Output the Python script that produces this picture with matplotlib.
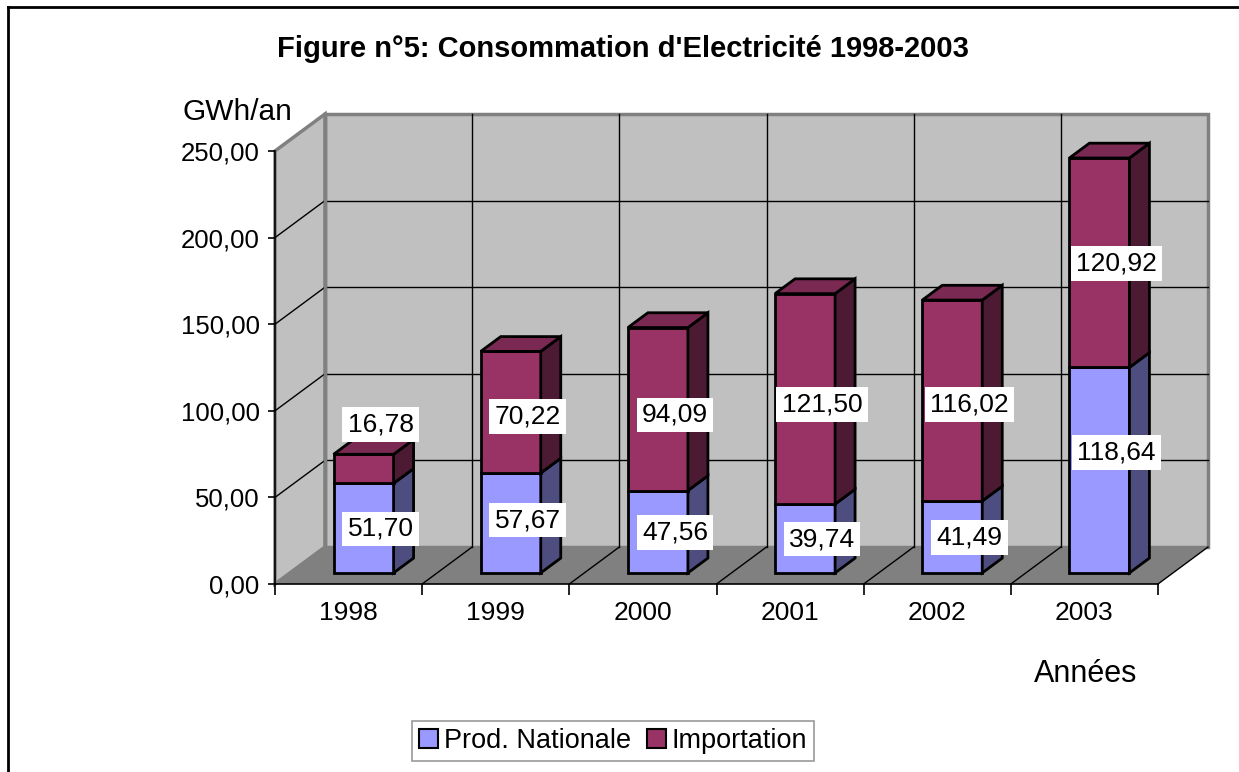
import matplotlib.pyplot as plt
from matplotlib.patches import Polygon, Rectangle
from matplotlib.lines import Line2D

plt.rcParams['font.family'] = ['Liberation Sans', 'DejaVu Sans']

# donnees
annees = ['1998', '1999', '2000', '2001', '2002', '2003']
prod_nationale = [51.70, 57.67, 47.56, 39.74, 41.49, 118.64]
importation = [16.78, 70.22, 94.09, 121.50, 116.02, 120.92]
yticks = [0, 50, 100, 150, 200, 250]

# couleurs (face, cote, dessus)
bleu = ('#9999ff', '#4d4d80', '#7a7acc')
violet = ('#993366', '#4d1a33', '#7a2952')

W, H = 1239, 772
fig = plt.figure(figsize=(W / 100, H / 100), dpi=100)
ax = fig.add_axes([275 / W, (H - 584) / H, 883 / W, 433 / H])
n = len(annees)
ax.set_xlim(0, n)
ax.set_ylim(0, 250)
ax.patch.set_visible(False)

# profondeur 3D en unites de donnees
DX = 50 / (883 / n)
DY = 37 / (433 / 250)
ymax = yticks[-1]

# murs et sol
ax.add_patch(Rectangle((DX, DY), n, ymax, fc='#c0c0c0', ec='#808080', lw=2.5, clip_on=False, zorder=1))
ax.add_patch(Polygon([(0, 0), (DX, DY), (DX, ymax + DY), (0, ymax)], closed=True,
                     fc='#c0c0c0', ec='#808080', lw=2.5, clip_on=False, zorder=1))
ax.add_patch(Polygon([(0, 0), (n, 0), (n + DX, DY), (DX, DY)], closed=True,
                     fc='#808080', ec='none', clip_on=False, zorder=1))

# quadrillage
for v in yticks[1:-1]:
    ax.plot([DX, n + DX], [v + DY, v + DY], color='black', lw=1, clip_on=False, zorder=2)
    ax.plot([0, DX], [v, v + DY], color='black', lw=1, clip_on=False, zorder=2)
for i in range(1, n):
    ax.plot([i + DX, i + DX], [DY, ymax + DY], color='black', lw=1, clip_on=False, zorder=2)
for i in range(1, n + 1):
    ax.plot([i, i + DX], [0, DY], color='black', lw=1, clip_on=False, zorder=2)
ax.plot([DX, DX], [DY, ymax + DY], color='#808080', lw=2.5, clip_on=False, zorder=2)

# barres 3D empilees
bw = 60 / (883 / n)
d0, d1 = 0.3, 0.7


def barre(xc, y0, y1, cols, top):
    xl = xc - bw / 2 + d0 * DX
    xr = xl + bw
    b0 = y0 + d0 * DY
    t0 = y1 + d0 * DY
    ddx = (d1 - d0) * DX
    ddy = (d1 - d0) * DY
    ax.add_patch(Polygon([(xl, b0), (xr, b0), (xr, t0), (xl, t0)], closed=True,
                         fc=cols[0], ec='black', lw=2, zorder=5, clip_on=False, joinstyle='miter'))
    ax.add_patch(Polygon([(xr, b0), (xr + ddx, b0 + ddy), (xr + ddx, t0 + ddy), (xr, t0)], closed=True,
                         fc=cols[1], ec='black', lw=2, zorder=5, clip_on=False, joinstyle='miter'))
    if top:
        ax.add_patch(Polygon([(xl, t0), (xr, t0), (xr + ddx, t0 + ddy), (xl + ddx, t0 + ddy)], closed=True,
                             fc=cols[2], ec='black', lw=2, zorder=5, clip_on=False, joinstyle='miter'))


# decalage des etiquettes (unites de valeur)
nudge_prod = [0, 2, 0, 0, 0, 10.5]
nudge_imp = [26, -2, -3, -3, -2, 0]
lift = 6
lx = 17 / (883 / n)
for i in range(n):
    xc = i + 0.5
    p, m = prod_nationale[i], importation[i]
    barre(xc, 0, p, bleu, False)
    barre(xc, p, p + m, violet, True)
    xt = xc + d0 * DX + lx
    ax.text(xt, p / 2 + nudge_prod[i] + lift, f'{p:.2f}'.replace('.', ','), ha='center', va='center',
            fontsize=19, zorder=10, bbox=dict(boxstyle='square,pad=0.2', fc='white', ec='none'))
    ax.text(xt, p + m / 2 + nudge_imp[i] + lift, f'{m:.2f}'.replace('.', ','), ha='center', va='center',
            fontsize=19, zorder=10, bbox=dict(boxstyle='square,pad=0.2', fc='white', ec='none'))

# axes
for s in ['top', 'right']:
    ax.spines[s].set_visible(False)
ax.spines['left'].set_linewidth(1.2)
ax.spines['bottom'].set_linewidth(1.2)
ax.spines['left'].set_zorder(3)
ax.spines['bottom'].set_zorder(3)
ax.set_yticks(yticks)
ax.set_yticklabels([f'{v:.2f}'.replace('.', ',') for v in yticks], fontsize=18.5)
ax.tick_params(axis='y', length=5, width=1.2, pad=6)
ax.set_xticks(range(n + 1))
ax.set_xticklabels([])
ax.tick_params(axis='x', which='major', length=8, width=1.2)
ax.set_xticks([i + 0.5 for i in range(n)], minor=True)
ax.set_xticklabels(annees, minor=True, fontsize=19)
ax.tick_params(axis='x', which='minor', length=0, pad=12)

# textes
fig.text(623 / W, 1 - 49 / H, "Figure n°5: Consommation d'Electricité 1998-2003",
         ha='center', va='center', fontsize=21, fontweight='bold')
fig.text(237 / W, 1 - 112 / H, 'GWh/an', ha='center', va='center', fontsize=21.5)
fig.text(1086 / W, 1 - 674 / H, 'Années', ha='center', va='center', fontsize=22)

# legende
h1 = Rectangle((0, 0), 1, 1, fc=bleu[0], ec='black', lw=1.5)
h2 = Rectangle((0, 0), 1, 1, fc=violet[0], ec='black', lw=1.5)
leg = fig.legend([h1, h2], ['Prod. Nationale', 'Importation'], loc='center',
                 bbox_to_anchor=(613 / W, 1 - 741 / H), ncol=2, fontsize=19.5, frameon=True,
                 fancybox=False, edgecolor='#808080', handlelength=0.7, handleheight=0.7,
                 handletextpad=0.2, columnspacing=0.6, borderpad=0.25, borderaxespad=0)
leg.get_frame().set_linewidth(1.2)

# cadre
fig.add_artist(Line2D([8 / W, 1], [1 - 7 / H, 1 - 7 / H], color='black', lw=2))
fig.add_artist(Line2D([8 / W, 8 / W], [0, 1 - 7 / H], color='black', lw=2))

fig.savefig('out.png', dpi=100)
